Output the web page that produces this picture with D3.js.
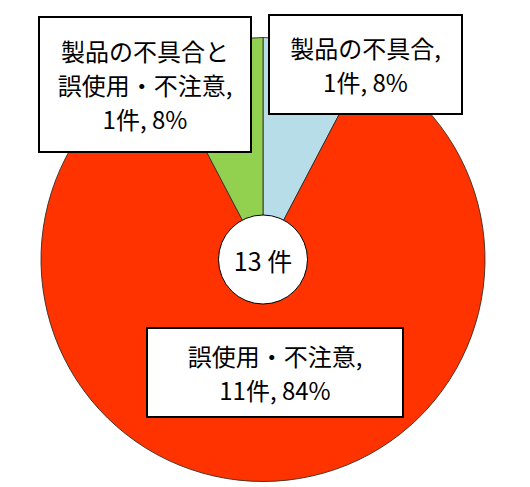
<!DOCTYPE html>
<html>
<head>
<meta charset="utf-8">
<script src="https://cdn.jsdelivr.net/npm/d3@7"></script>
<style>
  body { margin: 0; background: #fff; }
  text { font-family: "Noto Sans CJK JP", "Noto Sans", sans-serif; fill: #000; }
</style>
</head>
<body>
<svg></svg>
<script>
const WIDTH = 530;
const HEIGHT = 487;

// data, clockwise from 12 o'clock
const categories = ['製品の不具合', '誤使用・不注意', '製品の不具合と誤使用・不注意'];
const counts = [1, 11, 1];
const percents = ['8%', '84%', '8%'];
const labelLines = [
  ['製品の不具合,', '1件, 8%'],
  ['誤使用・不注意,', '11件, 84%'],
  ['製品の不具合と', '誤使用・不注意,', '1件, 8%']
];
const totalLabel = '13 件';
const colors = ['#B7DEE8', '#FF3300', '#92D050'];

// label box layout: [x, y, w, h]
const boxes = [
  [269, 15, 193, 99],
  [147, 328, 256, 89],
  [39, 17, 212, 135]
];

const cx = 263, cy = 259.5, outerR = 222, innerR = 44.5;

const svg = d3.select('svg')
    .attr('width', WIDTH)
    .attr('height', HEIGHT);

const g = svg.append('g')
    .attr('transform', `translate(${cx}, ${cy})`);

const pie = d3.pie().sort(null).value((d) => d);
const arc = d3.arc().innerRadius(0).outerRadius(outerR);

g.selectAll('path')
    .data(pie(counts))
    .enter().append('path')
    .attr('d', arc)
    .attr('fill', (d, i) => colors[i])
    .attr('stroke', '#3a2a20')
    .attr('stroke-width', 0.9);

// hole in the middle
g.append('circle')
    .attr('r', innerR)
    .attr('fill', '#fff')
    .attr('stroke', '#000')
    .attr('stroke-width', 1);

g.append('text')
    .attr('text-anchor', 'middle')
    .attr('dominant-baseline', 'central')
    .attr('font-size', 25)
    .text(totalLabel);

// label boxes
const LINE_H = 34;
const lab = svg.selectAll('g.label')
    .data(labelLines)
    .enter().append('g')
    .attr('class', 'label');

lab.append('rect')
    .attr('x', (d, i) => boxes[i][0])
    .attr('y', (d, i) => boxes[i][1])
    .attr('width', (d, i) => boxes[i][2])
    .attr('height', (d, i) => boxes[i][3])
    .attr('fill', '#fff')
    .attr('stroke', '#000')
    .attr('stroke-width', 2);

lab.each(function(lines, i) {
  const [x, y, w, h] = boxes[i];
  const top = y + h / 2 - (lines.length - 1) * LINE_H / 2;
  d3.select(this).selectAll('text')
      .data(lines)
      .enter().append('text')
      .attr('x', x + w / 2)
      .attr('y', (d, j) => top + j * LINE_H)
      .attr('text-anchor', 'middle')
      .attr('dominant-baseline', 'central')
      .attr('font-size', 24)
      .text((d) => d);
});
</script>
</body>
</html>
